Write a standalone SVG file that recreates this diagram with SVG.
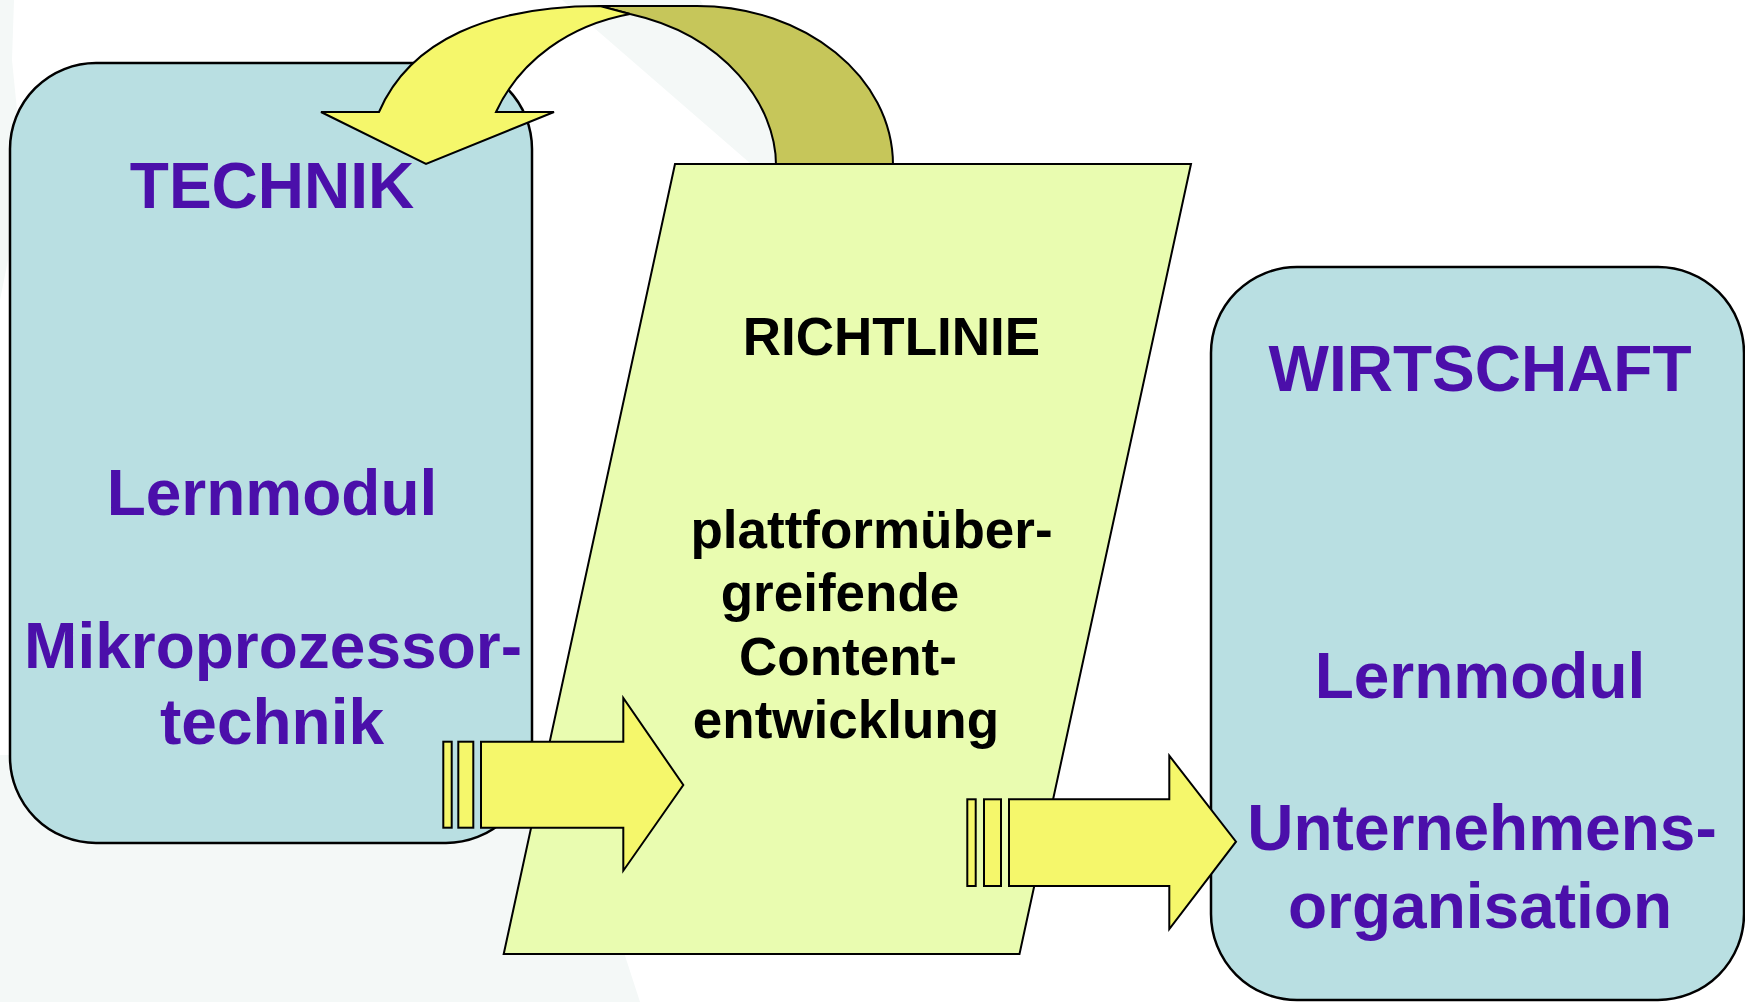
<svg xmlns="http://www.w3.org/2000/svg" width="1745" height="1002" viewBox="0 0 1745 1002">
<style>
.box{fill:#B9DFE2;stroke:#000;stroke-width:2.5}
.para{fill:#E9FCB0;stroke:#000;stroke-width:2}
.arr{fill:#F5F76B;stroke:#000;stroke-width:2;stroke-linejoin:miter}
.back{fill:#C6C65A;stroke:#000;stroke-width:2}
.pale{fill:#F4F8F7}
.tp{font-family:"Liberation Sans",Arial,sans-serif;font-weight:bold;font-size:64px;fill:#4B0FAA;text-anchor:middle}
.tb{font-family:"Liberation Sans",Arial,sans-serif;font-weight:bold;font-size:53px;fill:#000;text-anchor:middle}
</style>
<rect width="1745" height="1002" fill="#fff"/>
<g id="background">
<path class="pale" d="M0,0 L14,0 L12,60 L20,140 L8,260 L0,300 Z"/>
<path class="pale" d="M0,755 L560,755 L640,1002 L0,1002 Z"/>
<path class="pale" d="M562,0 L700,0 L800,164 L751,164 Z"/>
</g>
<g id="node-technik">
<rect class="box" x="10" y="63" width="522" height="780" rx="86" ry="86"/>
<text class="tp" x="272" y="208">TECHNIK</text>
<text class="tp" x="272" y="515">Lernmodul</text>
<text class="tp" x="273" y="668">Mikroprozessor-</text>
<text class="tp" x="272" y="744">technik</text>
</g>
<g id="node-wirtschaft">
<rect class="box" x="1211" y="267" width="533" height="733" rx="86" ry="86"/>
<text class="tp" x="1480" y="391">WIRTSCHAFT</text>
<text class="tp" x="1480" y="698">Lernmodul</text>
<text class="tp" x="1482" y="850">Unternehmens-</text>
<text class="tp" x="1480" y="928">organisation</text>
</g>
<g id="connectors">
<path class="back" d="M776,165 C776,105 725,35 630,14 L600,6 L697,6 C805,6 893,77 893,165 Z"/>
</g>
<g id="node-richtlinie">
<polygon class="para" points="675,164 1191,164 1019.5,954 503.7,954"/>
<text class="tb" x="891.5" y="355">RICHTLINIE</text>
<text class="tb" x="871.5" y="548">plattformüber-</text>
<text class="tb" x="840" y="611">greifende</text>
<text class="tb" x="848" y="675">Content-</text>
<text class="tb" x="846" y="738">entwicklung</text>
</g>
<g id="connectors-front">
<path class="arr" d="M379,112 C410,40 490,6 600,6 L630,14 C570,25 520,60 496,112 L554,112 L426,164 L321,112 Z"/>
<rect class="arr" x="443.3" y="741.7" width="8.4" height="86"/>
<rect class="arr" x="458.3" y="741.7" width="15" height="86"/>
<path class="arr" d="M481,741.7 L623.3,741.7 L623.3,698 L683.3,785 L623.3,870.7 L623.3,827.7 L481,827.7 Z"/>
<rect class="arr" x="967.3" y="799.3" width="8.4" height="86.7"/>
<rect class="arr" x="984" y="799.3" width="17" height="86.7"/>
<path class="arr" d="M1009,799.3 L1169.3,799.3 L1169.3,755.7 L1236,841.7 L1169.3,929 L1169.3,886 L1009,886 Z"/>
</g>
</svg>
